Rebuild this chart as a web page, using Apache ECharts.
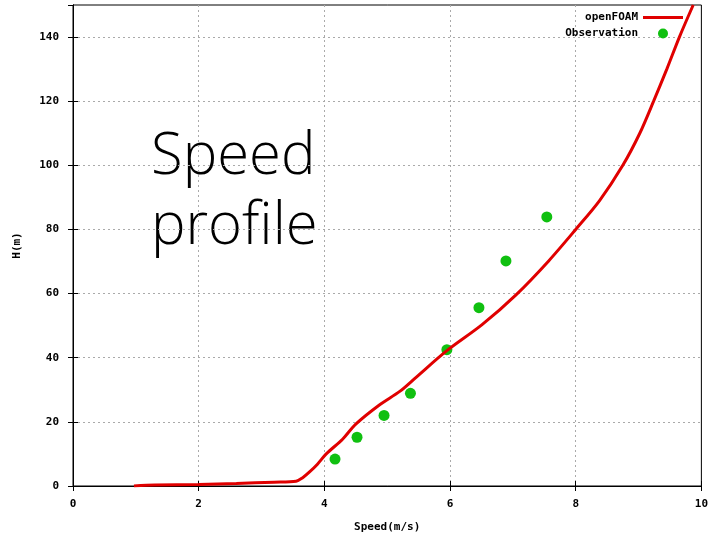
<!DOCTYPE html>
<html>
<head>
<meta charset="utf-8">
<script src="https://cdn.jsdelivr.net/npm/echarts@6/dist/echarts.min.js"></script>
<style>
  html, body { margin: 0; padding: 0; background: #fff; }
  #chart { width: 711px; height: 538px; }
</style>
</head>
<body>
<div id="chart"></div>
<script>
// openFOAM profile (speed m/s, height m)
const foamSpeed = [0.97, 1.3, 2.0, 2.6, 3.2, 3.55, 3.65, 3.76, 3.89, 4.03, 4.29, 4.5, 4.87, 5.2, 5.46, 5.95, 6.51, 7.05, 7.57, 8.0, 8.38, 8.75, 9.02, 9.24, 9.45, 9.65, 9.87];
const foamHeight = [0, 0.3, 0.5, 0.8, 1.2, 1.5, 2.5, 4.3, 6.8, 10, 14.6, 19.3, 25.2, 29.5, 33.9, 42.2, 50.3, 59.6, 70.2, 80, 89, 100, 110, 120, 130, 140, 150];

// observations
const obsSpeed = [4.17, 4.52, 4.95, 5.37, 5.95, 6.46, 6.89, 7.54];
const obsHeight = [8.4, 15.2, 22.0, 28.9, 42.5, 55.6, 70.2, 83.9];

const chart = echarts.init(document.getElementById('chart'));

const labelFont = {
  fontFamily: 'DejaVu Sans Mono',
  fontWeight: 'bold',
  fontSize: 11,
  color: '#000'
};
const dotted = { show: true, showMinLine: false, showMaxLine: false, lineStyle: { color: '#aaa', type: [2, 3], width: 1 } };
const blackLine = { show: true, lineStyle: { color: '#000', width: 1 } };

chart.setOption({
  animation: false,
  grid: {
    left: 73, right: 9, top: 5, bottom: 49,
    show: true, borderColor: '#000', borderWidth: 1
  },
  legend: {
    orient: 'vertical',
    align: 'right',
    right: 23,
    top: 7,
    itemWidth: 40,
    itemHeight: 10,
    itemGap: 5,
    textStyle: labelFont,
    data: [
      { name: 'openFOAM', icon: 'path://M0,0L40,0L40,3L0,3Z' },
      { name: 'Observation', icon: 'circle' }
    ]
  },
  xAxis: [{
    type: 'value', min: 0, max: 10, interval: 2,
    name: 'Speed(m/s)', nameLocation: 'middle', nameGap: 36,
    nameTextStyle: labelFont,
    axisLine: blackLine,
    axisTick: { inside: true, length: 5, lineStyle: { color: '#000' } },
    axisLabel: Object.assign({ margin: 13 }, labelFont),
    splitLine: dotted
  }, {
    type: 'value', min: 0, max: 10, interval: 2, position: 'top',
    axisLine: blackLine,
    axisTick: { inside: true, length: 5, lineStyle: { color: '#000' } },
    axisLabel: { show: false }, splitLine: { show: false }
  }],
  yAxis: [{
    type: 'value', min: 0, max: 150, interval: 20,
    name: 'H(m)', nameLocation: 'middle', nameGap: 50, nameRotate: 90,
    nameTextStyle: labelFont,
    axisLine: blackLine,
    axisTick: { show: true, inside: true, length: 5, lineStyle: { color: '#000' } },
    axisLabel: Object.assign({ margin: 14, showMaxLabel: false }, labelFont),
    splitLine: dotted
  }, {
    type: 'value', min: 0, max: 150, interval: 20, position: 'right',
    axisLine: blackLine,
    axisTick: { show: true, inside: true, length: 5, lineStyle: { color: '#000' } },
    axisLabel: { show: false }, splitLine: { show: false }
  }],
  graphic: [{
    type: 'text',
    left: 151, top: 122,
    style: {
      text: 'Speed\nprofile',
      fontFamily: 'Open Sans',
      fontWeight: 300,
      fontSize: 58,
      lineHeight: 70,
      fill: '#000'
    }
  }],
  series: [{
    name: 'openFOAM',
    type: 'line',
    data: foamSpeed.map((s, i) => [s, foamHeight[i]]),
    symbol: 'none',
    smooth: 0.3,
    color: '#e00000',
    lineStyle: { width: 3, color: '#e00000' },
    clip: true
  }, {
    name: 'Observation',
    type: 'scatter',
    data: obsSpeed.map((s, i) => [s, obsHeight[i]]),
    symbolSize: 11,
    itemStyle: { color: '#10c010', opacity: 1 }
  }]
});
</script>
</body>
</html>
